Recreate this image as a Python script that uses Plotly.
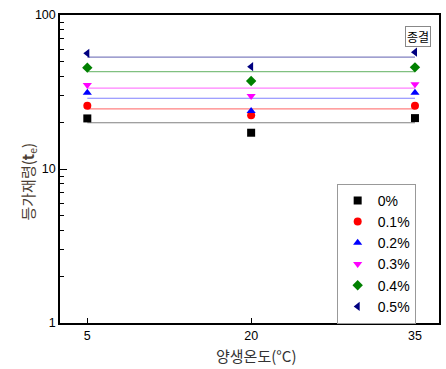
import plotly.graph_objects as go

temps = [5, 20, 35]
series_names = ["0%", "0.1%", "0.2%", "0.3%", "0.4%", "0.5%"]
v0 = [21.3, 17.2, 21.4]
v01 = [25.7, 22.3, 25.7]
v02 = [31.3, 23.8, 31.3]
v03 = [35.1, 29.8, 35.5]
v04 = [45.5, 37.3, 45.7]
v05 = [56.4, 46.2, 57.3]
values = [v0, v01, v02, v03, v04, v05]
y_major = [1, 10, 100]
y_minor = [2, 3, 4, 5, 6, 7, 8, 9, 20, 30, 40, 50, 60, 70, 80, 90]

symbols = ["square", "circle", "triangle-up", "triangle-down", "diamond", "triangle-left"]
colors = ["#000000", "#ff0000", "#0000ff", "#ff00ff", "#008000", "#000080"]
line_colors = ["#808080", "#ff8080", "#8080ff", "#ff80ff", "#80c080", "#8080c0"]

fig = go.Figure()
for name, vals, lc in zip(series_names, values, line_colors):
    m = sum(vals) / len(vals)
    fig.add_trace(go.Scatter(x=[temps[0], temps[-1]], y=[m, m], mode="lines",
                             line=dict(color=lc, width=1.2), showlegend=False,
                             hoverinfo="skip"))
for name, vals, sym, c in zip(series_names, values, symbols, colors):
    fig.add_trace(go.Scatter(x=temps, y=vals, mode="markers", name=name,
                             marker=dict(symbol=sym, color=c, size=8,
                                         line=dict(width=0))))

axis_font = dict(family="Arial, Liberation Sans, sans-serif", size=12.5, color="#000000")
fig.update_layout(
    width=446, height=369,
    margin=dict(l=60, r=5, t=15, b=46),
    plot_bgcolor="white", paper_bgcolor="white",
    xaxis=dict(range=[2.5, 37.2], tickvals=temps, ticktext=["5", "20", "35"],
               ticks="inside", ticklen=5, tickwidth=1, tickcolor="#000",
               showline=True, linecolor="#000", linewidth=1.5, mirror=True,
               showgrid=False, zeroline=False, tickfont=axis_font),
    yaxis=dict(type="log", range=[0, 2], tickmode="array", tickvals=y_major,
               ticktext=[str(v) for v in y_major],
               ticks="inside", ticklen=7, tickwidth=1, tickcolor="#000",
               minor=dict(tickmode="array", tickvals=y_minor, ticks="inside",
                          ticklen=4, tickcolor="#000", showgrid=False),
               showline=True, linecolor="#000", linewidth=1.5, mirror=True,
               showgrid=False, zeroline=False, tickfont=axis_font),
    legend=dict(x=0.73, y=0.452, xanchor="left", yanchor="top",
                bordercolor="#999999", borderwidth=1, bgcolor="white",
                font=dict(family="Arial, Liberation Sans, sans-serif", size=14, color="#000"),
                itemsizing="trace", tracegroupgap=0),
    showlegend=True,
    annotations=[
        dict(text="양생온도(°C)", xref="paper", yref="paper", x=0.517, y=-0.104,
             xanchor="center", yanchor="middle", showarrow=False,
             font=dict(family="Noto Sans CJK KR", size=15, color="#333")),
        dict(text="등가재령(<b>t</b><sub>e</sub>)", xref="paper", yref="paper",
             x=-0.084, y=0.46, xanchor="center", yanchor="middle", textangle=-90,
             showarrow=False,
             font=dict(family="Noto Sans CJK KR", size=15, color="#4d3f35")),
        dict(text="종결", xref="paper", yref="paper", x=0.945, y=0.93,
             xanchor="center", yanchor="middle", showarrow=False,
             bordercolor="#888", borderwidth=1, borderpad=1, bgcolor="white",
             font=dict(family="Noto Sans CJK KR", size=12, color="#000")),
    ],
)
fig.write_html("out.html", config={"displayModeBar": False},
               post_script="document.body.style.margin='0';")
